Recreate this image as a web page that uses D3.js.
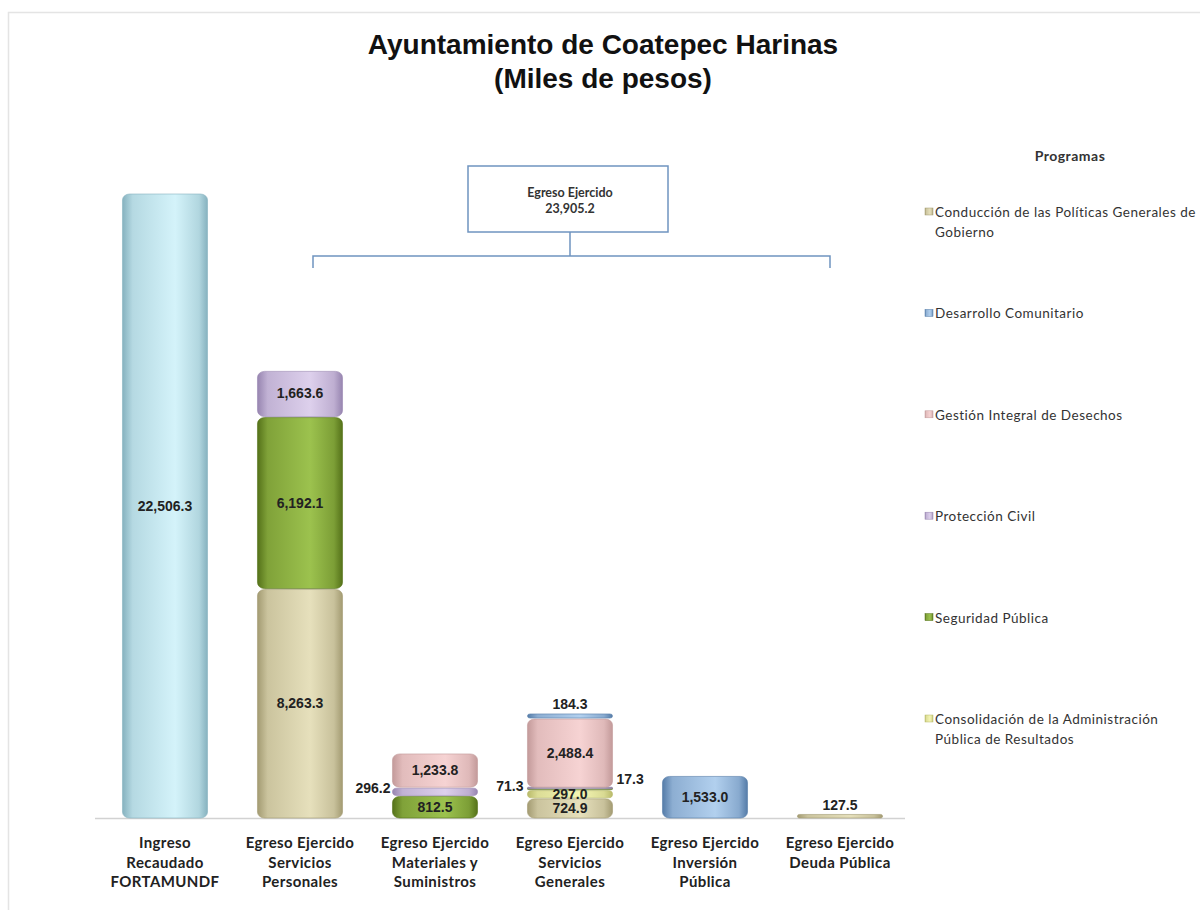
<!DOCTYPE html>
<html>
<head>
<meta charset="utf-8">
<script src="https://cdn.jsdelivr.net/npm/d3@7"></script>
<style>
  body { margin: 0; background: #fff; }
  svg { display: block; }
</style>
</head>
<body>
<div id="chart"></div>
<script>
// categorias del eje x
const categories = [
  "Ingreso Recaudado FORTAMUNDF",
  "Egreso Ejercido Servicios Personales",
  "Egreso Ejercido Materiales y Suministros",
  "Egreso Ejercido Servicios Generales",
  "Egreso Ejercido Inversión Pública",
  "Egreso Ejercido Deuda Pública"
];
const categoryLines = [
  ["Ingreso", "Recaudado", "FORTAMUNDF"],
  ["Egreso Ejercido", "Servicios", "Personales"],
  ["Egreso Ejercido", "Materiales y", "Suministros"],
  ["Egreso Ejercido", "Servicios", "Generales"],
  ["Egreso Ejercido", "Inversión", "Pública"],
  ["Egreso Ejercido", "Deuda Pública"]
];

// valores por serie (miles de pesos), uno por categoria
const ingreso       = [22506.3, 0, 0, 0, 0, 0];
const conduccion    = [0, 8263.3, 0, 724.9, 0, 127.5];
const consolidacion = [0, 0, 0, 297.0, 0, 0];
const seguridad     = [0, 6192.1, 812.5, 71.3, 0, 0];
const proteccion    = [0, 1663.6, 296.2, 17.3, 0, 0];
const gestion       = [0, 0, 1233.8, 2488.4, 0, 0];
const desarrollo    = [0, 0, 0, 184.3, 1533.0, 0];

const egresoTotal = 23905.2;

// leyenda (orden de arriba a abajo)
const legendNames = [
  ["Conducción de las Políticas Generales de", "Gobierno"],
  ["Desarrollo Comunitario"],
  ["Gestión Integral de Desechos"],
  ["Protección Civil"],
  ["Seguridad Pública"],
  ["Consolidación de la Administración", "Pública de Resultados"]
];
const legendKeys = ["conduccion", "desarrollo", "gestion", "proteccion", "seguridad", "consolidacion"];

// orden de apilado de abajo hacia arriba
const series = [
  { key: "ingreso", values: ingreso, light: "#d4f3fa", dark: "#86b2bf" },
  { key: "conduccion", values: conduccion, light: "#e6e0bc", dark: "#a39b72" },
  { key: "consolidacion", values: consolidacion, light: "#f4f5b4", dark: "#b9ba6a" },
  { key: "seguridad", values: seguridad, light: "#9cc24e", dark: "#557219" },
  { key: "proteccion", values: proteccion, light: "#ddd0ec", dark: "#9785b0" },
  { key: "gestion", values: gestion, light: "#f6d3d3", dark: "#c39a9a" },
  { key: "desarrollo", values: desarrollo, light: "#b2d0ee", dark: "#557ca8" }
];

const width = 1200, height = 910;
const svg = d3.select("#chart").append("svg")
  .attr("width", width).attr("height", height);

// marco
svg.append("rect")
  .attr("x", 8.5).attr("y", 12.5).attr("width", 1200).attr("height", 900)
  .attr("fill", "none").attr("stroke", "#e4e4e4").attr("stroke-width", 1.5);

const defs = svg.append("defs");
series.forEach(s => {
  const g = defs.append("linearGradient").attr("id", "grad-" + s.key)
    .attr("x1", "0%").attr("x2", "100%").attr("y1", "0%").attr("y2", "0%");
  g.append("stop").attr("offset", "0%").attr("stop-color", s.dark);
  g.append("stop").attr("offset", "12%").attr("stop-color", d3.interpolateRgb(s.dark, s.light)(0.6));
  g.append("stop").attr("offset", "62%").attr("stop-color", s.light);
  g.append("stop").attr("offset", "90%").attr("stop-color", d3.interpolateRgb(s.dark, s.light)(0.55));
  g.append("stop").attr("offset", "100%").attr("stop-color", s.dark);
});

const baseY = 818;
const x = d3.scaleBand().domain(categories)
  .range([97.5, 907.5]).paddingInner(0.37).paddingOuter(0.185);
const y = d3.scaleLinear().domain([0, 22506.3]).range([baseY, 193]);

const sans = "Liberation Sans, Arial, sans-serif";
const cal = "Lato, Calibri, sans-serif";

// titulo
svg.append("text").attr("x", 603).attr("y", 54).attr("text-anchor", "middle")
  .attr("font-family", sans).attr("font-weight", "bold")
  .attr("font-size", 28).attr("fill", "#111").text("Ayuntamiento de Coatepec Harinas");
svg.append("text").attr("x", 603).attr("y", 88).attr("text-anchor", "middle")
  .attr("font-family", sans).attr("font-weight", "bold")
  .attr("font-size", 28).attr("fill", "#111").text("(Miles de pesos)");

// eje
const axis = svg.append("g").attr("transform", `translate(0,${baseY + 0.5})`)
  .call(d3.axisBottom(x).tickSize(0).tickFormat(""));
axis.select(".domain").attr("stroke", "#d2d2d2").attr("stroke-width", 1.5)
  .attr("d", "M95,0H905");

categories.forEach((c, i) => {
  const t = svg.append("text").attr("text-anchor", "middle")
    .attr("font-family", cal).attr("font-weight", "bold")
    .attr("font-size", 15).attr("letter-spacing", 0.4).attr("fill", "#222");
  categoryLines[i].forEach((ln, j) => {
    t.append("tspan").attr("x", x(c) + x.bandwidth() / 2).attr("y", 848 + j * 19.5).text(ln);
  });
});

// barras apiladas
const stackData = categories.map((c, i) => {
  const row = { cat: c };
  series.forEach(s => row[s.key] = s.values[i]);
  return row;
});
const stacked = d3.stack().keys(series.map(s => s.key))(stackData);

const fmt = d3.format(",.1f");
const bars = svg.append("g");
const labels = svg.append("g");

stacked.forEach((layer, li) => {
  const s = series[li];
  layer.forEach((d, ci) => {
    const v = s.values[ci];
    if (v <= 0) return;
    const cat = d.data.cat;
    const x0 = x(cat), bw = x.bandwidth();
    const yTop = y(d[1]), yBot = y(d[0]);
    const h = Math.max(yBot - yTop, 1.5);
    const gap = h > 4 ? 1 : 0;
    bars.append("rect")
      .attr("x", x0).attr("y", yTop + gap)
      .attr("width", bw).attr("height", Math.max(h - gap, 1.5))
      .attr("rx", Math.min(7, h / 2)).attr("ry", Math.min(6, h / 2))
      .attr("fill", `url(#grad-${s.key})`)
      .attr("stroke", s.dark).attr("stroke-width", 0.6);

    // etiquetas: las capas delgadas van fuera de la barra
    let lx = x0 + bw / 2, ly = (yTop + yBot) / 2 + 5, anchor = "middle";
    if (s.key === "proteccion" && ci === 2) { lx = x0 - 2; anchor = "end"; ly = yTop + 6; }
    else if (s.key === "seguridad" && ci === 3) { lx = x0 - 4; anchor = "end"; ly = yTop + 3; }
    else if (s.key === "proteccion" && ci === 3) { lx = x0 + bw + 4; anchor = "start"; ly = yTop - 3; }
    else if ((s.key === "desarrollo" && ci === 3) || s.key === "conduccion" && ci === 5) { ly = yTop - 4; }
    labels.append("text").attr("x", lx).attr("y", ly).attr("text-anchor", anchor)
      .attr("font-family", sans).attr("font-weight", "bold")
      .attr("font-size", 14).attr("fill", "#222").text(fmt(v));
  });
});

// caja "Egreso Ejercido" con llave
const bx0 = x(categories[1]) + x.bandwidth() / 2 + 13;
const bx1 = x(categories[5]) + x.bandwidth() / 2 - 10;
const bcx = 570;
const bracket = svg.append("g").attr("fill", "none").attr("stroke", "#6f94c0").attr("stroke-width", 1.5);
bracket.append("rect").attr("x", 468).attr("y", 166).attr("width", 200).attr("height", 66).attr("fill", "#fff");
bracket.append("path").attr("d", `M${bcx},232V256M${bx0},268V256H${bx1}V268`);
svg.append("text").attr("x", bcx).attr("y", 197).attr("text-anchor", "middle")
  .attr("font-family", cal).attr("font-weight", "bold")
  .attr("font-size", 12.5).attr("fill", "#333").text("Egreso Ejercido");
svg.append("text").attr("x", bcx).attr("y", 213).attr("text-anchor", "middle")
  .attr("font-family", cal).attr("font-weight", "bold")
  .attr("font-size", 12.5).attr("fill", "#333").text(fmt(egresoTotal));

// leyenda
svg.append("text").attr("x", 1070).attr("y", 161).attr("text-anchor", "middle")
  .attr("font-family", cal).attr("font-weight", "bold")
  .attr("font-size", 14).attr("letter-spacing", 0.5).attr("fill", "#333").text("Programas");
const legendY = d3.scalePoint().domain(legendKeys).range([217, 724]);
legendKeys.forEach((k, i) => {
  const s = series.find(d => d.key === k);
  const ly = legendY(k);
  svg.append("rect").attr("x", 925).attr("y", ly - 9).attr("width", 8).attr("height", 7)
    .attr("fill", `url(#grad-${k})`).attr("stroke", s.dark).attr("stroke-width", 0.5);
  const t = svg.append("text").attr("font-family", cal)
    .attr("font-size", 13.5).attr("letter-spacing", 0.5).attr("fill", "#333");
  legendNames[i].forEach((ln, j) => {
    t.append("tspan").attr("x", 935).attr("y", ly + j * 20).text(ln);
  });
});
</script>
</body>
</html>
